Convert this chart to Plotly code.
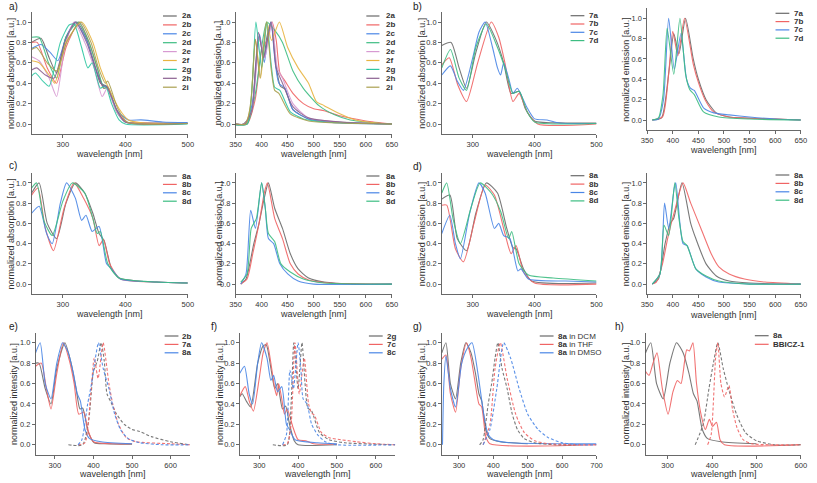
import plotly.graph_objects as go

W, H = 817, 483
FONT = "Liberation Sans, Arial, sans-serif"

# ---------------- colours ----------------
C_GRAY = "#6a6a6a"
C_RED = "#f06464"
C_BLUE = "#4a86e6"
C_GREEN = "#3dbd82"
C_PINK = "#d79ad2"
C_ORANGE = "#e8b440"
C_TEAL = "#2fc7a2"
C_PURPLE = "#8b6090"
C_OLIVE = "#aaa050"

# ---------------- data: (wavelength nm, normalized value) ----------------
# panel a) absorption
ABS_2A = [(250, 0.80), (265, 0.84), (278, 0.65), (290, 0.50), (305, 0.85), (322, 1.00), (337, 0.85),
          (350, 0.60), (360, 0.40), (370, 0.37), (385, 0.15), (400, 0.02), (430, 0.01), (500, 0.01)]
ABS_2B = [(250, 0.80), (259, 0.80), (275, 0.55), (290, 0.40), (305, 0.75), (326, 1.00), (342, 0.80),
          (355, 0.55), (365, 0.35), (372, 0.36), (387, 0.12), (402, 0.02), (430, 0.01), (500, 0.005)]
ABS_2C = [(250, 0.74), (265, 0.78), (280, 0.70), (292, 0.62), (305, 0.85), (320, 1.00), (338, 0.82),
          (352, 0.55), (365, 0.37), (372, 0.36), (387, 0.13), (405, 0.04), (425, 0.04), (460, 0.02), (500, 0.015)]
ABS_2D = [(250, 0.85), (262, 0.85), (277, 0.60), (290, 0.45), (305, 0.85), (325, 1.00), (342, 0.80),
          (355, 0.55), (366, 0.35), (372, 0.36), (386, 0.12), (400, 0.02), (500, 0.005)]
ABS_2E = [(250, 0.66), (262, 0.62), (278, 0.45), (290, 0.27), (303, 0.75), (318, 1.00), (335, 0.80),
          (350, 0.55), (363, 0.27), (371, 0.35), (385, 0.13), (400, 0.02), (500, 0.005)]
ABS_2F = [(250, 0.62), (262, 0.60), (278, 0.48), (287, 0.40), (305, 0.80), (330, 1.00), (348, 0.80),
          (360, 0.55), (372, 0.37), (390, 0.15), (405, 0.04), (430, 0.01), (500, 0.005)]
ABS_2G = [(250, 0.47), (256, 0.50), (268, 0.42), (278, 0.37), (296, 0.80), (310, 0.97), (318, 0.98),
          (330, 0.75), (340, 0.55), (347, 0.60), (360, 0.35), (368, 0.38), (378, 0.20), (390, 0.04),
          (400, 0.00), (500, 0.00)]
ABS_2H = [(250, 0.53), (258, 0.55), (272, 0.48), (286, 0.45), (303, 0.80), (320, 1.00), (338, 0.80),
          (352, 0.55), (363, 0.38), (370, 0.37), (386, 0.14), (400, 0.02), (500, 0.005)]
ABS_2I = [(250, 0.73), (258, 0.75), (275, 0.60), (290, 0.52), (306, 0.80), (328, 1.00), (345, 0.80),
          (357, 0.55), (368, 0.40), (372, 0.42), (388, 0.15), (403, 0.02), (500, 0.005)]

# panel a) emission
EM_2A = [(335, 0.0), (365, 0.00), (380, 0.10), (388, 0.55), (395, 0.86), (404, 0.65), (410, 0.85),
         (418, 1.00), (428, 0.55), (436, 0.37), (445, 0.34), (460, 0.14), (490, 0.05), (550, 0.02), (650, 0.0)]
EM_2B = [(335, 0.0), (372, 0.00), (388, 0.25), (400, 0.72), (410, 0.82), (420, 1.00), (428, 0.82),
         (435, 0.50), (445, 0.42), (460, 0.30), (480, 0.20), (500, 0.15), (520, 0.13), (550, 0.08),
         (600, 0.03), (650, 0.0)]
EM_2C = [(350, 0.0), (368, 0.00), (382, 0.20), (396, 0.88), (405, 0.60), (411, 0.82), (418, 1.00),
         (426, 0.60), (433, 0.40), (445, 0.35), (460, 0.14), (490, 0.05), (550, 0.01), (650, 0.0)]
EM_2D = [(350, 0.0), (372, 0.00), (388, 0.30), (400, 0.75), (410, 1.00), (425, 0.92), (440, 0.80),
         (460, 0.52), (480, 0.35), (510, 0.18), (540, 0.09), (570, 0.04), (620, 0.01), (650, 0.0)]
EM_2E = [(350, 0.0), (368, 0.00), (382, 0.15), (396, 0.85), (406, 0.65), (420, 1.00), (430, 0.55),
         (440, 0.45), (460, 0.20), (490, 0.06), (550, 0.02), (650, 0.0)]
EM_2F = [(350, 0.0), (368, 0.00), (378, 0.15), (388, 0.83), (398, 0.45), (410, 1.00), (419, 0.82),
         (434, 1.00), (450, 0.75), (470, 0.55), (490, 0.40), (505, 0.22), (520, 0.18), (550, 0.10),
         (580, 0.04), (620, 0.01), (650, 0.0)]
EM_2G = [(335, 0.0), (372, 0.00), (382, 0.40), (389, 1.00), (400, 0.55), (410, 1.00), (418, 0.60),
         (425, 0.36), (435, 0.33), (455, 0.12), (480, 0.05), (520, 0.02), (650, 0.0)]
EM_2H = [(350, 0.0), (368, 0.00), (382, 0.15), (394, 0.90), (404, 0.65), (418, 1.00), (428, 0.55),
         (440, 0.40), (460, 0.17), (490, 0.06), (550, 0.02), (650, 0.0)]
EM_2I = [(350, 0.0), (370, 0.00), (380, 0.25), (388, 0.83), (397, 0.45), (409, 1.00), (418, 0.55),
         (425, 0.33), (433, 0.30), (455, 0.10), (490, 0.03), (550, 0.01), (650, 0.0)]

# panel b) absorption
ABS_7A = [(250, 0.77), (265, 0.80), (278, 0.55), (290, 0.35), (305, 0.70), (322, 1.00), (338, 0.82),
          (350, 0.60), (362, 0.30), (375, 0.32), (385, 0.15), (400, 0.03), (450, 0.01), (500, 0.01)]
ABS_7B = [(250, 0.58), (262, 0.65), (276, 0.38), (290, 0.22), (308, 0.60), (330, 1.00), (342, 0.85),
          (352, 0.60), (365, 0.22), (375, 0.30), (388, 0.12), (405, 0.00), (500, 0.00)]
ABS_7C = [(250, 0.48), (264, 0.57), (275, 0.42), (285, 0.33), (300, 0.65), (310, 0.90), (320, 1.00),
          (332, 0.75), (340, 0.55), (345, 0.48), (350, 0.60), (358, 0.45), (365, 0.30), (372, 0.35),
          (387, 0.17), (400, 0.05), (420, 0.04), (440, 0.01), (500, 0.005)]
ABS_7D = [(250, 0.55), (264, 0.73), (278, 0.45), (290, 0.33), (305, 0.75), (322, 0.98), (340, 0.75),
          (352, 0.55), (365, 0.30), (375, 0.32), (388, 0.12), (400, 0.02), (500, 0.005)]

# panel b) emission
EM_7A = [(360, 0.0), (378, 0.02), (393, 0.50), (402, 0.85), (412, 0.65), (425, 1.00), (440, 0.60),
         (450, 0.40), (465, 0.20), (485, 0.07), (510, 0.03), (600, 0.01), (650, 0.0)]
EM_7B = [(360, 0.0), (380, 0.03), (392, 0.45), (400, 0.87), (410, 0.63), (423, 1.00), (440, 0.55),
         (450, 0.37), (463, 0.20), (480, 0.08), (510, 0.03), (600, 0.01), (650, 0.0)]
EM_7C = [(360, 0.0), (372, 0.01), (382, 0.20), (392, 1.00), (403, 0.50), (416, 0.85), (427, 0.40),
         (435, 0.31), (442, 0.29), (460, 0.12), (480, 0.07), (510, 0.05), (550, 0.03), (600, 0.01), (650, 0.0)]
EM_7D = [(360, 0.0), (372, 0.02), (381, 0.25), (389, 0.90), (402, 0.45), (414, 1.00), (425, 0.45),
         (433, 0.30), (442, 0.25), (460, 0.08), (490, 0.03), (550, 0.01), (650, 0.0)]

# panel c) absorption
ABS_8A = [(250, 0.90), (262, 1.00), (275, 0.60), (290, 0.45), (305, 0.80), (320, 1.00), (335, 0.90),
          (348, 0.70), (358, 0.50), (366, 0.43), (378, 0.15), (390, 0.06), (420, 0.03), (500, 0.01)]
ABS_8B = [(250, 0.88), (260, 0.95), (272, 0.55), (285, 0.33), (302, 0.75), (318, 1.00), (333, 0.85),
          (348, 0.65), (358, 0.38), (365, 0.44), (375, 0.20), (392, 0.05), (450, 0.02), (500, 0.01)]
ABS_8C = [(250, 0.70), (262, 0.77), (274, 0.50), (283, 0.40), (296, 0.80), (306, 1.00), (320, 0.85),
          (330, 0.63), (337, 0.68), (347, 0.52), (358, 0.57), (370, 0.20), (378, 0.15), (392, 0.05),
          (450, 0.02), (500, 0.01)]
ABS_8D = [(250, 0.95), (258, 1.00), (270, 0.62), (283, 0.48), (300, 0.82), (315, 1.00), (335, 0.90),
          (348, 0.65), (355, 0.50), (360, 0.52), (372, 0.20), (390, 0.06), (450, 0.02), (500, 0.01)]

# panel c) emission
EM_8A = [(360, 0.0), (370, 0.05), (385, 0.40), (395, 0.60), (405, 0.85), (413, 1.00), (425, 0.75),
         (440, 0.55), (455, 0.30), (470, 0.15), (490, 0.06), (520, 0.02), (580, 0.0), (650, 0.0)]
EM_8B = [(360, 0.0), (372, 0.05), (383, 0.30), (395, 0.60), (405, 0.90), (411, 1.00), (425, 0.65),
         (440, 0.45), (455, 0.20), (470, 0.10), (490, 0.04), (530, 0.01), (650, 0.0)]
EM_8C = [(360, 0.0), (370, 0.10), (379, 0.73), (388, 0.55), (400, 1.00), (407, 0.75), (413, 0.45),
         (423, 0.40), (435, 0.20), (450, 0.10), (470, 0.03), (500, 0.0), (650, 0.0)]
EM_8D = [(360, 0.02), (372, 0.10), (380, 0.55), (390, 0.65), (400, 1.00), (407, 0.75), (413, 0.50),
         (425, 0.42), (437, 0.20), (455, 0.12), (480, 0.05), (520, 0.01), (650, 0.0)]

# panel d) spectra
D_ABS_8A = [(250, 0.84), (263, 0.88), (275, 0.45), (290, 0.33), (305, 0.70), (322, 1.00), (340, 0.90),
            (355, 0.55), (365, 0.36), (370, 0.35), (382, 0.15), (395, 0.03), (500, 0.01)]
D_ABS_8B = [(250, 0.78), (258, 0.78), (272, 0.35), (285, 0.22), (302, 0.60), (320, 0.98), (335, 0.88),
            (352, 0.50), (362, 0.30), (370, 0.38), (382, 0.12), (400, 0.01), (500, 0.0)]
D_ABS_8C = [(250, 0.50), (263, 0.68), (272, 0.40), (280, 0.25), (295, 0.70), (310, 1.00), (320, 0.90),
            (335, 0.55), (342, 0.60), (350, 0.48), (360, 0.45), (373, 0.13), (378, 0.15), (390, 0.05),
            (450, 0.03), (500, 0.02)]
D_ABS_8D = [(250, 0.90), (258, 1.00), (268, 0.65), (280, 0.40), (297, 0.75), (312, 1.00), (330, 0.90),
            (345, 0.72), (358, 0.45), (363, 0.52), (375, 0.20), (390, 0.09), (430, 0.06), (500, 0.03)]
D_EM_8A = [(360, 0.0), (372, 0.05), (385, 0.40), (395, 0.60), (402, 0.65), (418, 1.00), (435, 0.60),
           (445, 0.45), (465, 0.20), (485, 0.08), (510, 0.03), (550, 0.01), (650, 0.0)]
D_EM_8B = [(360, 0.0), (368, 0.02), (380, 0.20), (390, 0.45), (405, 0.75), (420, 1.00), (435, 0.80),
           (455, 0.55), (475, 0.30), (490, 0.17), (510, 0.10), (540, 0.05), (580, 0.02), (650, 0.0)]
D_EM_8C = [(360, 0.0), (375, 0.10), (384, 0.80), (392, 0.55), (403, 0.95), (406, 1.00), (414, 0.60),
           (420, 0.40), (428, 0.38), (445, 0.15), (465, 0.07), (490, 0.02), (550, 0.0), (650, 0.0)]
D_EM_8D = [(360, 0.0), (375, 0.10), (383, 0.58), (392, 0.48), (404, 1.00), (412, 0.65), (420, 0.42),
           (428, 0.38), (445, 0.15), (465, 0.08), (490, 0.03), (550, 0.0), (650, 0.0)]

# panel g) 8a in THF / DMSO
ABS_8A_THF = [(250, 0.84), (262, 0.88), (275, 0.50), (290, 0.32), (305, 0.75), (322, 1.00), (335, 0.85),
              (345, 0.65), (358, 0.40), (366, 0.37), (378, 0.08), (390, 0.01), (700, 0.0)]
ABS_8A_DMSO = [(252, 0.00), (256, 0.60), (262, 0.87), (275, 0.55), (290, 0.37), (308, 0.80), (325, 0.95),
               (338, 1.00), (355, 0.70), (372, 0.30), (385, 0.10), (400, 0.05), (450, 0.02), (700, 0.01)]
EM_8A_THF = [(370, 0.0), (390, 0.20), (405, 0.75), (420, 1.00), (440, 0.65), (465, 0.30), (490, 0.12),
             (520, 0.04), (560, 0.01), (700, 0.0)]
EM_8A_DMSO = [(370, 0.0), (390, 0.15), (410, 0.55), (430, 1.00), (450, 0.85), (475, 0.55), (500, 0.30),
              (530, 0.15), (560, 0.07), (600, 0.02), (650, 0.0), (700, 0.0)]

# panel h) BBICZ-1
ABS_BBICZ = [(250, 0.72), (258, 0.68), (267, 0.80), (276, 0.90), (288, 0.55), (301, 0.30), (312, 0.52),
             (322, 0.63), (330, 0.60), (343, 0.93), (349, 0.92), (357, 1.00), (365, 0.60), (375, 0.30),
             (385, 0.15), (394, 0.25), (401, 0.18), (410, 0.22), (418, 0.05), (428, 0.00), (600, 0.0)]
EM_BBICZ = [(390, 0.0), (398, 0.10), (408, 0.85), (413, 1.00), (420, 0.60), (428, 0.47), (438, 0.58),
            (446, 0.35), (456, 0.17), (470, 0.05), (490, 0.01), (600, 0.0)]
EM_8A_H = [(362, 0.0), (380, 0.20), (393, 0.55), (403, 0.80), (413, 1.00), (425, 0.75), (437, 0.55),
           (455, 0.30), (475, 0.12), (500, 0.04), (540, 0.0), (600, 0.0)]

# ---------------- panel layout (pixel boxes) ----------------
# (x0px, x1px, ytop_px(=1.1), ybot_px(=-0.1), xrange, xtickvals)
R1 = (11.8, 134.2)
R2 = (172.8, 294.2)
R3 = (332.5, 455.0)
PANELS = [
    (26.0, 184.5, *R1, [250, 500], [300, 400, 500]),          # a abs
    (233.0, 391.7, *R1, [350, 650], list(range(350, 651, 50))),  # a em
    (442.3, 599.3, *R1, [250, 500], [300, 400, 500]),         # b abs
    (650.7, 806.7, 8.0, 130.2, [350, 650], list(range(350, 651, 50))),  # b em
    (26.0, 184.5, *R2, [250, 500], [300, 400, 500]),          # c abs
    (233.0, 391.7, *R2, [350, 650], list(range(350, 651, 50))),  # c em
    (442.3, 599.3, *R2, [250, 500], [300, 400, 500]),         # d abs
    (650.7, 806.7, *R2, [350, 650], list(range(350, 651, 50))),  # d em
    (30.0, 186.7, *R3, [250, 650], [300, 400, 500, 600]),     # e
    (237.3, 395.0, *R3, [250, 650], [300, 400, 500, 600]),    # f
    (442.3, 599.3, *R3, [250, 700], [300, 400, 500, 600, 700]),  # g
    (649.0, 806.7, *R3, [250, 600], [300, 400, 500, 600]),    # h
]

YTITLES = ["normalized absorption [a.u.]", "normalized emission [a.u.]",
           "normalized absorption [a.u.]", "normalized emission [a.u.]",
           "normalized absorption [a.u.]", "normalized emission [a.u.]",
           "normalized emission [a.u.]", "normalized emission [a.u.]",
           "normalized intensity [a.u.]", "normalized intensity [a.u.]",
           "normalized intensity [a.u.]", "normalized intensity [a.u.]"]
YTITLE_X = [5.0, 215.5, 422.0, 629.0, 5.0, 215.5, 422.0, 629.0, 8.3, 216.5, 421.5, 629.0]
XTITLE_Y = [154, 154, 154, 150, 314, 314, 314, 315, 474.3, 474.3, 474.3, 474.3]

PANEL_LABELS = [("a)", 1, 6), ("b)", 411, 6), ("c)", 1, 165), ("d)", 411, 166),
                ("e)", 1, 326), ("f)", 206, 326), ("g)", 411, 326), ("h)", 616, 326)]

# series per panel: (data, colour, dashed, legend label)
SERIES = [
    [(ABS_2A, C_GRAY, False, "2a"), (ABS_2B, C_RED, False, "2b"), (ABS_2C, C_BLUE, False, "2c"),
     (ABS_2D, C_GREEN, False, "2d"), (ABS_2E, C_PINK, False, "2e"), (ABS_2F, C_ORANGE, False, "2f"),
     (ABS_2G, C_TEAL, False, "2g"), (ABS_2H, C_PURPLE, False, "2h"), (ABS_2I, C_OLIVE, False, "2i")],
    [(EM_2A, C_GRAY, False, "2a"), (EM_2B, C_RED, False, "2b"), (EM_2C, C_BLUE, False, "2c"),
     (EM_2D, C_GREEN, False, "2d"), (EM_2E, C_PINK, False, "2e"), (EM_2F, C_ORANGE, False, "2f"),
     (EM_2G, C_TEAL, False, "2g"), (EM_2H, C_PURPLE, False, "2h"), (EM_2I, C_OLIVE, False, "2i")],
    [(ABS_7A, C_GRAY, False, "7a"), (ABS_7B, C_RED, False, "7b"), (ABS_7C, C_BLUE, False, "7c"),
     (ABS_7D, C_GREEN, False, "7d")],
    [(EM_7A, C_GRAY, False, "7a"), (EM_7B, C_RED, False, "7b"), (EM_7C, C_BLUE, False, "7c"),
     (EM_7D, C_GREEN, False, "7d")],
    [(ABS_8A, C_GRAY, False, "8a"), (ABS_8B, C_RED, False, "8b"), (ABS_8C, C_BLUE, False, "8c"),
     (ABS_8D, C_GREEN, False, "8d")],
    [(EM_8A, C_GRAY, False, "8a"), (EM_8B, C_RED, False, "8b"), (EM_8C, C_BLUE, False, "8c"),
     (EM_8D, C_GREEN, False, "8d")],
    [(D_ABS_8A, C_GRAY, False, "8a"), (D_ABS_8B, C_RED, False, "8b"), (D_ABS_8C, C_BLUE, False, "8c"),
     (D_ABS_8D, C_GREEN, False, "8d")],
    [(D_EM_8A, C_GRAY, False, "8a"), (D_EM_8B, C_RED, False, "8b"), (D_EM_8C, C_BLUE, False, "8c"),
     (D_EM_8D, C_GREEN, False, "8d")],
    [(ABS_2B, C_GRAY, False, "2b"), (ABS_7A, C_RED, False, "7a"), (ABS_8A, C_BLUE, False, "8a"),
     (EM_2B, C_GRAY, True, None), (EM_7A, C_RED, True, None), (EM_8A, C_BLUE, True, None)],
    [(ABS_2G, C_GRAY, False, "2g"), (ABS_7C, C_RED, False, "7c"), (ABS_8C, C_BLUE, False, "8c"),
     (EM_2G, C_GRAY, True, None), (EM_7C, C_RED, True, None), (EM_8C, C_BLUE, True, None)],
    [(ABS_8A, C_GRAY, False, "<b>8a</b> in DCM"), (ABS_8A_THF, C_RED, False, "<b>8a</b> in THF"),
     (ABS_8A_DMSO, C_BLUE, False, "<b>8a</b> in DMSO"),
     (EM_8A, C_GRAY, True, None), (EM_8A_THF, C_RED, True, None), (EM_8A_DMSO, C_BLUE, True, None)],
    [(ABS_8A, C_GRAY, False, "8a"), (ABS_BBICZ, C_RED, False, "BBICZ-1"),
     (EM_8A_H, C_GRAY, True, None), (EM_BBICZ, C_RED, True, None)],
]

# legend geometry: (line x0, line x1, text x, first row y, row step)
LEGENDS = [
    (159.3, 173.3, 176.7, 16.0, 8.9),
    (365.7, 379.0, 383.3, 16.0, 8.9),
    (573.0, 587.0, 590.0, 15.7, 8.3),
    (781.0, 795.0, 797.7, 13.3, 8.3),
    (159.3, 173.3, 176.7, 176.0, 8.4),
    (365.7, 379.0, 383.3, 176.0, 8.4),
    (573.0, 587.0, 590.0, 175.7, 8.4),
    (781.0, 795.0, 797.7, 175.0, 8.4),
    (161.0, 175.0, 176.7, 336.0, 8.4),
    (368.3, 382.3, 385.0, 336.0, 8.4),
    (541.7, 555.7, 557.7, 336.0, 8.4),
    (760.0, 774.0, 776.0, 335.7, 8.6),
]


def px_x(p):
    return p / W


def px_y(p):
    return 1 - p / H


fig = go.Figure()
layout = dict(
    width=W, height=H, margin=dict(l=0, r=0, t=0, b=0),
    paper_bgcolor="white", plot_bgcolor="white",
    showlegend=False, font=dict(family=FONT, size=8, color="#333"),
)
annotations = []
shapes = []

for i, (x0, x1, yt, yb, xr, xt) in enumerate(PANELS):
    n = "" if i == 0 else str(i + 1)
    layout["xaxis" + n] = dict(
        domain=[px_x(x0), px_x(x1)], range=xr, anchor="y" + n,
        tickvals=xt, ticks="outside", ticklen=3, tickwidth=0.8, tickcolor="#444",
        showline=True, linecolor="#444", linewidth=0.8, showgrid=False, zeroline=False,
        tickfont=dict(size=7.6, color="#333", family=FONT),
    )
    layout["yaxis" + n] = dict(
        domain=[px_y(yb), px_y(yt)], range=[-0.1, 1.1], anchor="x" + n,
        tickvals=[0, 0.2, 0.4, 0.6, 0.8, 1.0], ticktext=["0.0", "0.2", "0.4", "0.6", "0.8", "1.0"],
        ticks="outside", ticklen=3, tickwidth=0.8, tickcolor="#444",
        showline=True, linecolor="#444", linewidth=0.8, showgrid=False, zeroline=False,
        tickfont=dict(size=7.4, color="#333", family=FONT),
    )
    # traces
    for data, col, dashed, _ in SERIES[i]:
        fig.add_trace(go.Scatter(
            x=[p[0] for p in data], y=[p[1] for p in data], mode="lines",
            line=dict(color=col, width=1.1, shape="spline", smoothing=0.6,
                      dash="3px,2px" if dashed else "solid"),
            opacity=0.9, xaxis="x" + n, yaxis="y" + n, hoverinfo="skip",
        ))
    # axis titles
    annotations.append(dict(
        text="wavelength [nm]", x=px_x((x0 + x1) / 2), y=px_y(XTITLE_Y[i]),
        xref="paper", yref="paper", showarrow=False, xanchor="center", yanchor="middle",
        font=dict(size=9, color="#333", family=FONT)))
    annotations.append(dict(
        text=YTITLES[i], x=px_x(YTITLE_X[i]), y=px_y((yt + yb) / 2), textangle=-90,
        xref="paper", yref="paper", showarrow=False, xanchor="center", yanchor="middle",
        font=dict(size=9, color="#333", family=FONT)))
    # legend
    lx0, lx1, tx, ly, step = LEGENDS[i]
    k = 0
    for data, col, dashed, lab in SERIES[i]:
        if lab is None:
            continue
        yy = ly + k * step
        shapes.append(dict(type="line", xref="paper", yref="paper",
                           x0=px_x(lx0), x1=px_x(lx1), y0=px_y(yy), y1=px_y(yy),
                           line=dict(color=col, width=1.2)))
        txt = lab if "<b>" in lab else "<b>" + lab + "</b>"
        annotations.append(dict(
            text=txt, x=px_x(tx), y=px_y(yy), xref="paper", yref="paper", showarrow=False,
            xanchor="left", yanchor="middle", font=dict(size=8, color="#333", family=FONT)))
        k += 1

for lab, lx, ly in PANEL_LABELS:
    annotations.append(dict(text=lab, x=px_x(lx), y=px_y(ly), xref="paper", yref="paper",
                            showarrow=False, xanchor="left", yanchor="middle",
                            font=dict(size=10, color="#222", family=FONT)))

layout["annotations"] = annotations
layout["shapes"] = shapes
fig.update_layout(**layout)
fig.write_html("out.html", config={"displayModeBar": False, "staticPlot": True},
               post_script="document.body.style.margin='0';document.body.style.overflow='hidden';")
